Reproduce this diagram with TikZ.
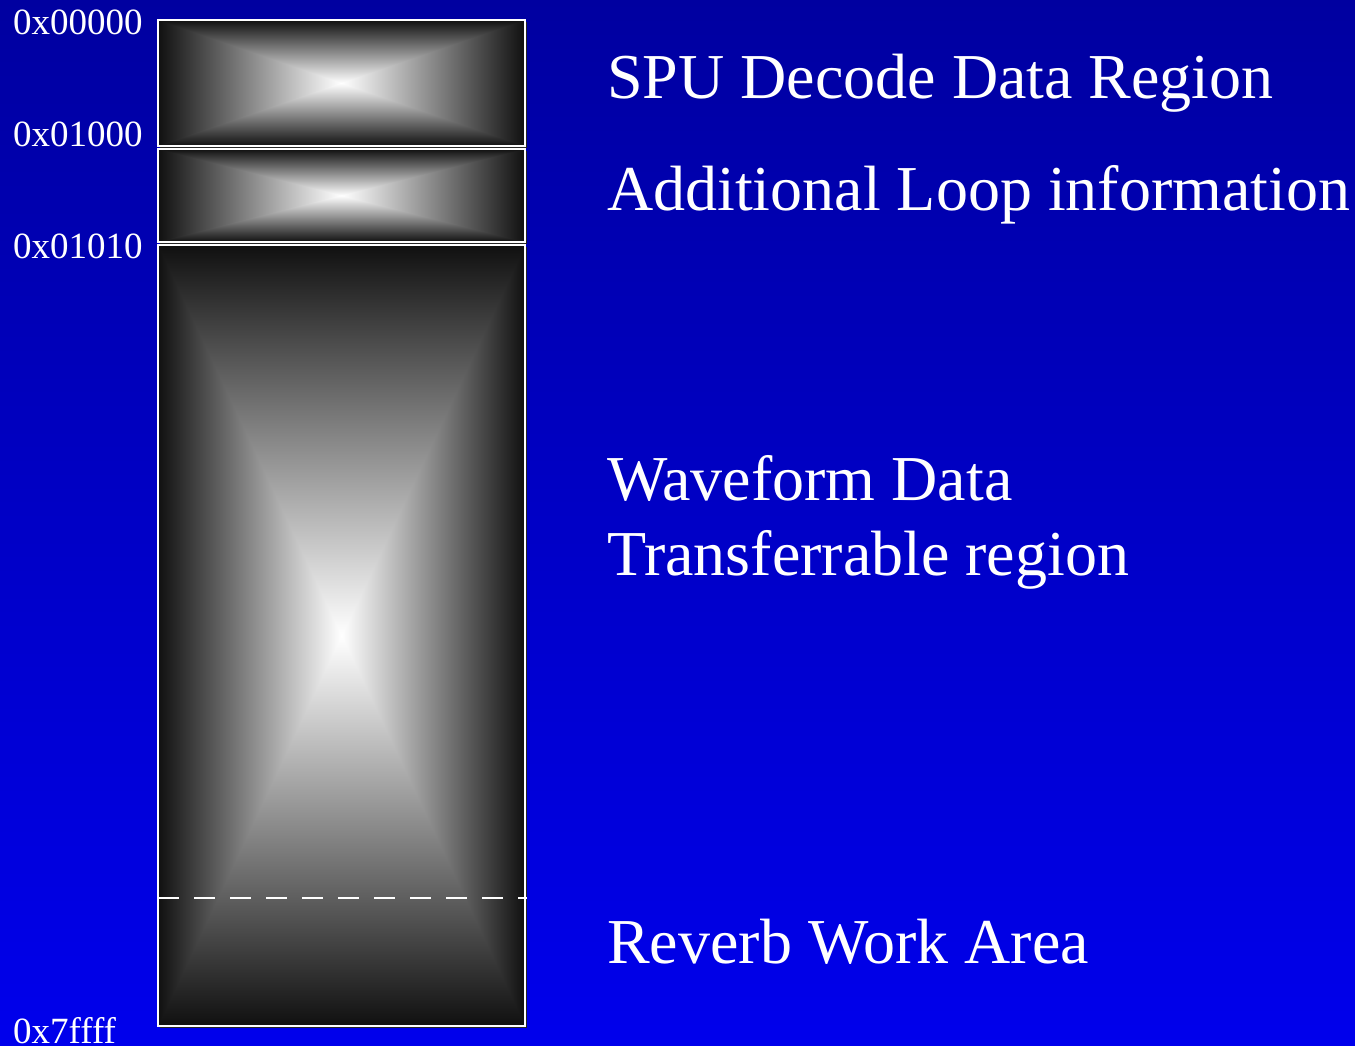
\documentclass[tikz,border=0pt]{standalone}
\usepackage{fontspec}
\setmainfont{Liberation Serif}
\definecolor{bgtop}{RGB}{0,0,160}
\definecolor{bgbottom}{RGB}{0,0,236}
\definecolor{blockedge}{RGB}{16,16,16}

% one memory block: pyramid shading, dark rim, white frame
\newcommand\memblock[4]{%
    \fill[black!85] (#1+2,#2+2) rectangle (#3+2,#4+2);
    \shade[left color=blockedge, right color=blockedge, middle color=white] (#1,#2) rectangle (#3,#4);
    \shade[top color=blockedge, bottom color=white] (#1,#2) -- (#3,#2) -- ({(#1+#3)/2},{(#2+#4)/2}) -- cycle;
    \shade[top color=white, bottom color=blockedge] (#1,#4) -- (#3,#4) -- ({(#1+#3)/2},{(#2+#4)/2}) -- cycle;
    \draw[frame] (#1,#2) rectangle (#3,#4);
}

\begin{document}
\begin{tikzpicture}[
        x=1pt, y=-1pt,
        frame/.style={draw=white, line width=2.5pt},
        addr/.style={text=white, anchor=base west, inner sep=0pt, font=\fontsize{37}{40}\selectfont},
        region/.style={text=white, anchor=base west, inner sep=0pt, font=\fontsize{64}{70}\selectfont}
    ]
    \useasboundingbox (0,0) rectangle (1355,1045);
    \shade[top color=bgtop, bottom color=bgbottom] (0,0) rectangle (1355,1045);

    % memory map
    \memblock{158}{20}{525}{146}
    \memblock{158}{149}{525}{242}
    \memblock{158}{245}{525}{1026}
    \draw[white, line width=2.8pt, dash pattern=on 21pt off 15pt] (158,898) -- (527,898);

    % addresses
    \node[addr] (a0) at (13,34) {0x00000};
    \node[addr] (a1) at (13,146) {0x01000};
    \node[addr] (a2) at (13,258) {0x01010};
    \node[addr] (a3) at (13,1043) {0x7ffff};

    % regions
    \node[region] (spu) at (607,98) {SPU Decode Data Region};
    \node[region] (loop) at (607,210) {Additional Loop information};
    \node[region] (wave) at (607,500) {Waveform Data};
    \node[region] (xfer) at (607,575) {Transferrable region};
    \node[region] (reverb) at (607,963) {Reverb Work Area};
\end{tikzpicture}
\end{document}
